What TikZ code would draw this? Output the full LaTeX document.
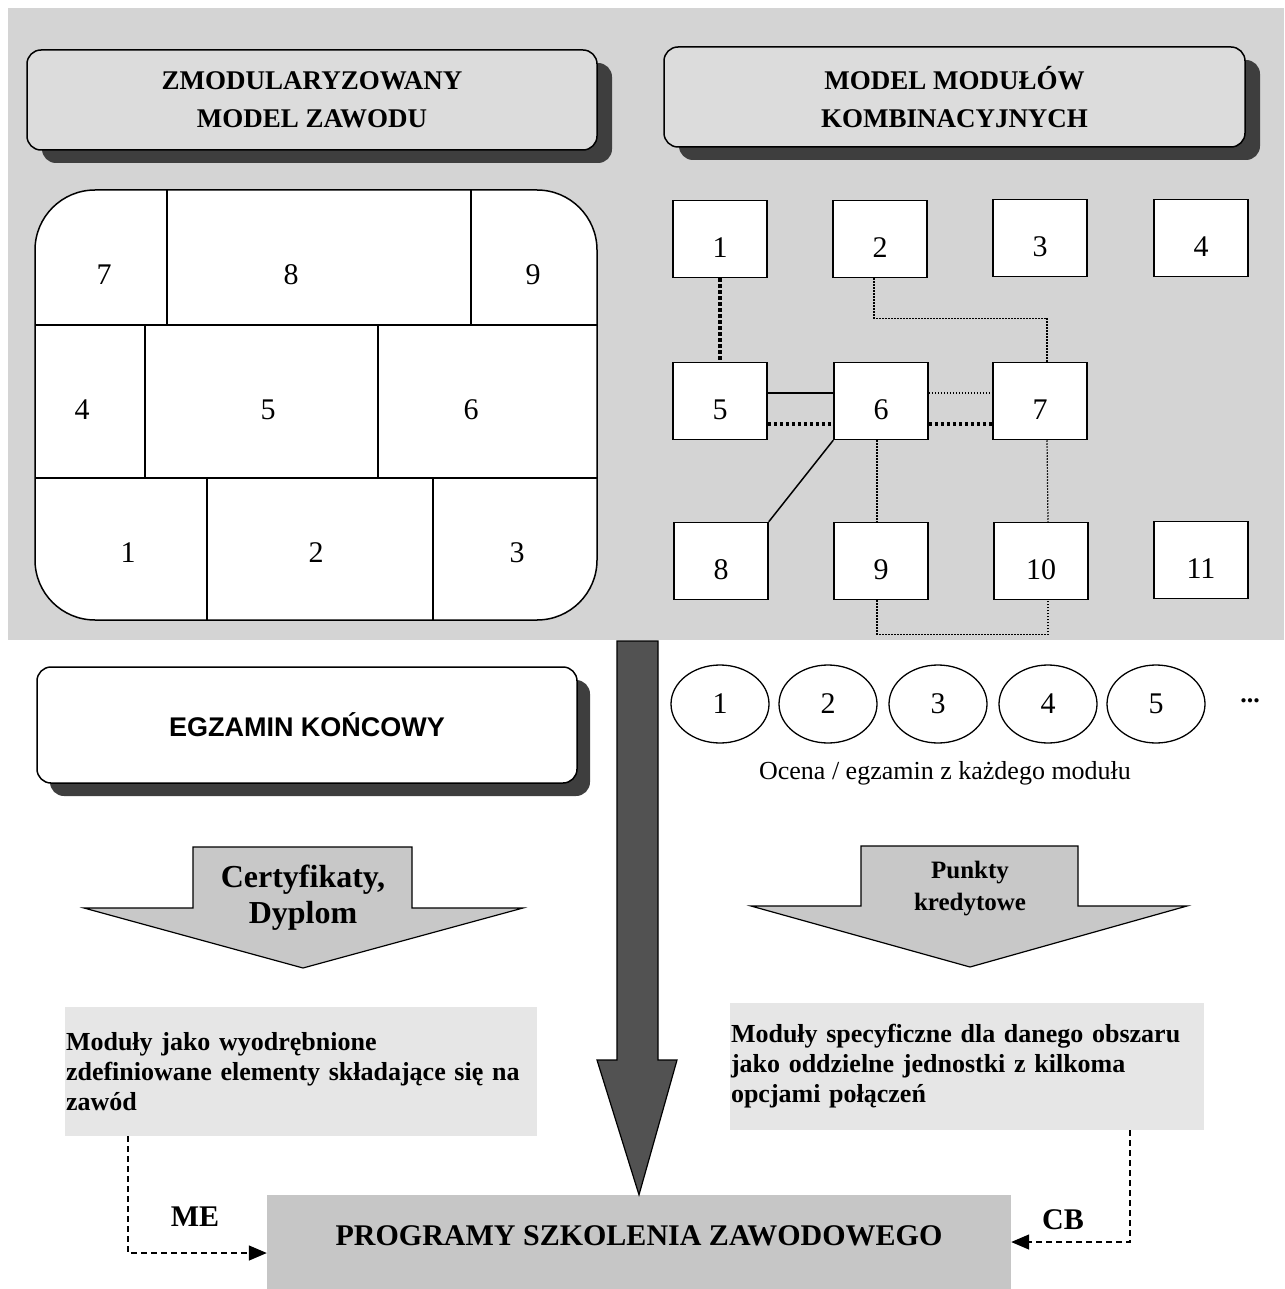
\documentclass[tikz,border=0pt]{standalone}
\usepackage{fontspec}
\setmainfont{Liberation Serif}
\newfontfamily\arialfont{Liberation Sans}
\usepackage{xcolor}
\usetikzlibrary{shapes.geometric,shadows,arrows.meta}

\definecolor{bggray}{RGB}{212,212,212}
\definecolor{hdrgray}{RGB}{220,220,220}
\definecolor{shadowgray}{RGB}{62,62,62}
\definecolor{arrowgray}{RGB}{200,200,200}
\definecolor{boxgray}{RGB}{230,230,230}
\definecolor{proggray}{RGB}{198,198,198}
\definecolor{darkarrow}{RGB}{82,82,82}

\newcommand{\fsz}[2]{\fontsize{#1}{#2}\selectfont}

\begin{document}
\begin{tikzpicture}[x=1pt,y=-1pt,
  hdr/.style={draw,line width=1.5pt,rounded corners=14pt,fill=hdrgray,minimum width=570pt,minimum height=100pt,align=center,font=\fsz{27}{38}\bfseries,drop shadow={shadow xshift=15pt,shadow yshift=-13pt,fill=shadowgray,opacity=1}},
  num/.style={font=\fsz{30}{30}},
  sq/.style={draw,line width=1.5pt,fill=white,minimum width=94pt,minimum height=77pt,inner sep=0pt,text height=36pt,text depth=0pt,font=\fsz{30}{30}},
  ell/.style={ellipse,draw,line width=1.3pt,fill=white,minimum width=98pt,minimum height=78pt,inner sep=0pt,font=\fsz{30}{30}},
  thickdot/.style={line width=3.5pt,dash pattern=on 3.5pt off 2.5pt},
  thindot/.style={line width=1.2pt,dash pattern=on 1.5pt off 1.5pt},
  txtbox/.style={fill=boxgray,align=left,inner xsep=1pt,font=\fsz{26}{30}\bfseries},
  dashline/.style={line width=1.5pt,dash pattern=on 6pt off 4pt},
  bigarr/.style={line width=1.2pt,fill=arrowgray}]

\useasboundingbox (0,0) rectangle (1284,1289);
\fill[bggray] (8,8) rectangle (1284,640);

\node[hdr] (hzaw) at (312,100) {ZMODULARYZOWANY\\MODEL ZAWODU};
\node[hdr,minimum width=581pt] (hkomb) at (954.5,97) {MODEL MODUŁÓW\\KOMBINACYJNYCH};

% modules of the occupation
\draw[line width=1.5pt,fill=white,rounded corners=60pt] (35,190) rectangle (597,620);
\draw[line width=1.5pt] (35,325) -- (597,325) (35,478) -- (597,478)
  (167,190) -- (167,325) (471,190) -- (471,325)
  (145,325) -- (145,478) (378,325) -- (378,478)
  (207,478) -- (207,620) (433,478) -- (433,620);
\foreach \n/\x/\y in {7/104/275,8/291/275,9/533/275,4/82/410,5/268/410,6/471/410,1/128/553,2/316/553,3/517/553}
  \node[num] (z\n) at (\x,\y) {\n};

% combination modules
\foreach \n/\x/\y in {1/720/239,2/880/239,3/1040/238,4/1201/238,5/720/401,6/881/401,7/1040/401,8/721/561,9/881/561,10/1041/561,11/1201/560}
  \node[sq] (m\n) at (\x,\y) {\n};

\draw[thickdot] (m1.south) -- (m5.north);
\draw[thindot] ([xshift=-6pt]m2.south) -- ++(0,40) -| ([xshift=7pt]m7.north);
\draw[line width=1.5pt] ([yshift=8pt]m5.east) -- ([yshift=8pt]m6.west);
\draw[thickdot] ([yshift=-23pt]m5.east) -- ([yshift=-23pt]m6.west);
\draw[thindot] ([yshift=8pt]m6.east) -- ([yshift=8pt]m7.west);
\draw[thickdot] ([yshift=-23pt]m6.east) -- ([yshift=-23pt]m7.west);
\draw[line width=1.5pt] (m6.south west) -- (m8.north east);
\draw[thindot] ([xshift=-4pt]m6.south) -- ([xshift=-4pt]m9.north);
\draw[thindot] ([xshift=7pt]m7.south) -- ([xshift=7pt]m10.north);
\draw[thindot] ([xshift=-4pt]m9.south) -- ++(0,34) -| ([xshift=7pt]m10.south);

\node[draw,line width=1.5pt,rounded corners=14pt,fill=white,minimum width=540pt,minimum height=116pt,font=\arialfont\bfseries\fsz{27}{30},drop shadow={shadow xshift=13pt,shadow yshift=-13pt,fill=shadowgray,opacity=1}] (egz) at (307,725) {EGZAMIN KOŃCOWY};

\foreach \n/\x in {1/720,2/828,3/938,4/1048,5/1156}
  \node[ell] (e\n) at (\x,704) {\n};
\node[font=\fsz{26}{26}\bfseries] (edots) at (1250,701) {...};
\node[font=\fsz{26}{30}] (ocena) at (945,773) {Ocena / egzamin z każdego modułu};

\draw[bigarr] (193,847) -- (412,847) -- (412,908) -- (523,908) -- (303,968) -- (84,908) -- (193,908) -- cycle;
\node[font=\fsz{32}{36}\bfseries,align=center] (cert) at (303,898) {Certyfikaty,\\Dyplom};
\draw[bigarr] (861,846) -- (1078,846) -- (1078,906) -- (1187,906) -- (970,967) -- (751,906) -- (861,906) -- cycle;
\node[font=\fsz{25}{32}\bfseries,align=center] (pkt) at (970,889) {Punkty\\kredytowe};

\node[txtbox,minimum width=472pt,minimum height=129pt,text width=470pt] (modL) at (301,1071.5) {Moduły jako wyodrębnione\\zdefiniowane elementy składające się na\\zawód};
\node[txtbox,minimum width=474pt,minimum height=127pt,text width=472pt] (modR) at (967,1066.5) {Moduły specyficzne dla danego obszaru\\jako oddzielne jednostki z kilkoma\\opcjami połączeń};

\node[fill=proggray,minimum width=744pt,minimum height=94pt,text height=20pt,text depth=14pt,font=\fsz{30}{30}\bfseries] (prog) at (639,1242) {PROGRAMY SZKOLENIA ZAWODOWEGO};

\draw[line width=1.2pt,fill=darkarrow] (617,641) -- (658,641) -- (658,1060) -- (677,1060) -- (prog.north) -- (597,1060) -- (617,1060) -- cycle;

\draw[dashline,-{Triangle[length=18pt,width=15pt]}] ([xshift=-173pt]modL.south) |- ([yshift=-11pt]prog.west);
\node[font=\fsz{30}{30}\bfseries] (me) at (195,1217) {ME};
\draw[dashline,-{Triangle[length=18pt,width=15pt]}] ([xshift=163pt]modR.south) |- (prog.east);
\node[font=\fsz{30}{30}\bfseries] (cb) at (1063,1220) {CB};
\end{tikzpicture}
\end{document}
